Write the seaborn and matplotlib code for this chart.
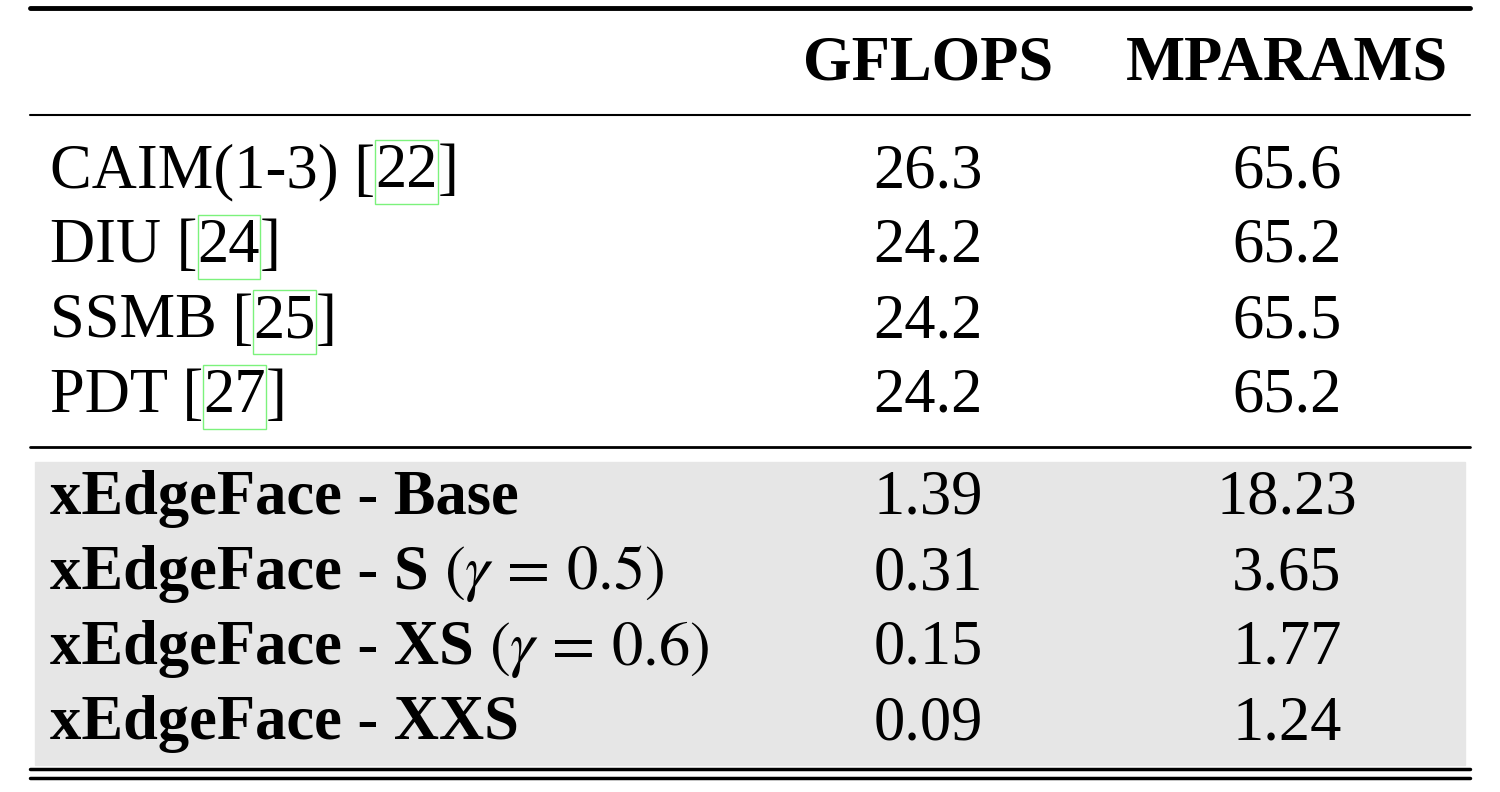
import matplotlib
matplotlib.use("Agg")
import matplotlib.pyplot as plt
import seaborn as sns
from matplotlib.patches import Rectangle

sns.set_theme(style="white")
plt.rcParams['font.family'] = ['Liberation Serif', 'DejaVu Serif']
plt.rcParams['mathtext.fontset'] = 'stix'
plt.rcParams['text.color'] = 'black'

headers = ['GFLOPS', 'MPARAMS']
# each label: list of (text, bold, boxed)
methods_top = [
    [('CAIM(1-3) [', False, False), ('22', False, True), (']', False, False)],
    [('DIU [', False, False), ('24', False, True), (']', False, False)],
    [('SSMB [', False, False), ('25', False, True), (']', False, False)],
    [('PDT [', False, False), ('27', False, True), (']', False, False)],
]
gflops_top = ['26.3', '24.2', '24.2', '24.2']
mparams_top = ['65.6', '65.2', '65.5', '65.2']

methods_ours = [
    [('xEdgeFace - Base', True, False)],
    [('xEdgeFace - S ', True, False), (r'$(\gamma\,=\,0.5)$', False, False)],
    [('xEdgeFace - XS ', True, False), (r'$(\gamma\,=\,0.6)$', False, False)],
    [('xEdgeFace - XXS', True, False)],
]
gflops_ours = ['1.39', '0.31', '0.15', '0.09']
mparams_ours = ['18.23', '3.65', '1.77', '1.24']

fig = plt.figure(figsize=(15, 7.92), dpi=100)
ax = fig.add_axes([0, 0, 1, 1])
ax.set_xlim(0, 1500)
ax.set_ylim(792, 0)
ax.axis('off')

fs = 45
col_x = [928, 1287]

# grey band
ax.add_patch(Rectangle((35, 462), 1430, 303, color='#e6e6e6', zorder=0))

# rules
ax.plot([30, 1470], [8, 8], color='black', lw=3.5)
ax.plot([30, 1470], [115, 115], color='black', lw=1.5)
ax.plot([30, 1470], [447, 447], color='black', lw=2)
ax.plot([30, 1470], [769, 769], color='black', lw=2.5)
ax.plot([30, 1470], [778, 778], color='black', lw=2.5)

for x, h in zip(col_x, headers):
    ax.text(x, 64, h, ha='center', va='center', fontsize=fs, fontweight='bold')

fig.canvas.draw()
renderer = fig.canvas.get_renderer()
inv = ax.transData.inverted()


def draw_label(parts, y):
    x = 50
    for txt, bold, boxed in parts:
        t = ax.text(x, y, txt, ha='left', va='center', fontsize=fs,
                    fontweight='bold' if bold else 'normal')
        bb = t.get_window_extent(renderer)
        (x0, y0), (x1, y1) = inv.transform([(bb.x0, bb.y0), (bb.x1, bb.y1)])
        if boxed:
            ax.add_patch(Rectangle((x0, y - 32), x1 - x0, 64, fill=False,
                                   edgecolor='#7cf27c', lw=1))
        x = x1


rows_y_top = [172, 247, 322, 397]
rows_y_ours = [499, 574, 649, 724]
for parts, g, m, y in zip(methods_top, gflops_top, mparams_top, rows_y_top):
    draw_label(parts, y)
    ax.text(col_x[0], y, g, ha='center', va='center', fontsize=fs)
    ax.text(col_x[1], y, m, ha='center', va='center', fontsize=fs)
for parts, g, m, y in zip(methods_ours, gflops_ours, mparams_ours, rows_y_ours):
    draw_label(parts, y)
    ax.text(col_x[0], y, g, ha='center', va='center', fontsize=fs)
    ax.text(col_x[1], y, m, ha='center', va='center', fontsize=fs)

fig.savefig('out.png', dpi=100)
